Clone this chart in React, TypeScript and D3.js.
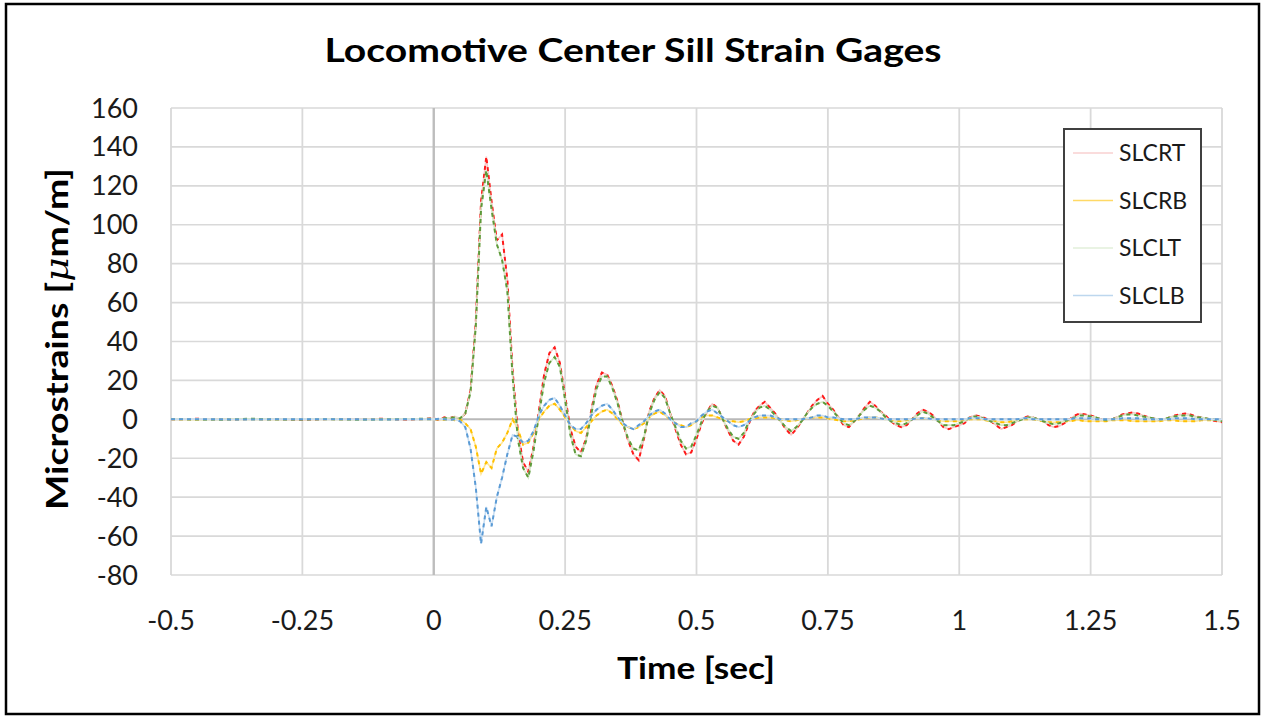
import React from "react";
import * as d3 from "d3";

// ---- data ----
const PRE_TIMES: number[] = [-0.5, -0.45, -0.4, -0.35, -0.3, -0.25, -0.2, -0.15, -0.1, -0.05];
const POST_TIMES: number[] = d3.range(0, 151).map((i) => Math.round(i) / 100);

const SLCRT_PRE = [0, 0.3, -0.2, 0.2, 0, -0.3, 0.2, 0, 0.3, -0.2];
const SLCRT = [
  0.5, -0.5, 1, 0.5, 1.5, 0, 3, 15, 50, 112,
  135, 112, 92, 95, 72, 25, -6, -22, -27, -14,
  4, 23, 34, 37, 29, 12, -5, -14, -17, -10,
  5, 18, 24, 23, 17, 9, -2, -11, -18, -21,
  -10, 4, 11, 15, 12, 3, -5, -13, -18, -17,
  -10, -2, 4, 8, 6, 0, -6, -11, -13, -9,
  -2, 4, 7, 9, 6, 3, -1, -5, -8, -5,
  -1, 3, 7, 10, 12, 8, 5, 1, -3, -4,
  -1, 2, 6, 9, 7, 4, 2, -1, -3, -4,
  -3, 0, 3, 5, 4, 2, -1, -4, -5, -4,
  -3, -2, 1, 2, 1.5, 0.5, -1, -3, -5, -4,
  -3, -1, 0.5, 1.5, 1, 0, -1, -3, -4, -3.5,
  -2, 0, 2, 3, 2.5, 2, 1, 0, -0.5, 0,
  1, 2.5, 3, 3.5, 3, 2, 1, 0.5, -0.5, 0,
  1, 2, 2.5, 3, 2.5, 1.5, 1, 0.5, -0.5, -1,
  -1.5,
];

const SLCRB_PRE = [0, -0.2, 0.1, 0, -0.2, 0.1, 0, -0.1, 0, 0.1];
const SLCRB = [
  0, 0, -0.3, 0, -0.5, 0, -2, -5, -14, -28,
  -22, -25, -15, -12, -7, 0, -5, -13, -12, -7,
  0, 4, 7, 8, 5, 1, -3, -6, -7, -4,
  -1, 2, 4, 5, 3, 0, -3, -4, -5, -4,
  -2, 1, 3, 4, 2, 0, -2, -3, -4, -3,
  -1, 1, 2, 2, 1, 0, -1, -1, -1.5, -1,
  0, 0.5, 1, 1, 1, 0.5, 0, -0.5, -1, -0.5,
  0, 0.5, 1, 1, 1, 0.5, 0, -0.5, -1, -1,
  -0.5, 0, 0.5, 1, 1, 0.5, 0, -0.5, -1, -1,
  -0.5, 0, 0.5, 0.5, 0.5, 0, -0.5, -1, -1, -1,
  -1, -0.5, 0, 0, 0, -0.5, -1, -1, -1.5, -1.5,
  -1, -0.5, 0, 0, 0, -0.5, -1, -1.5, -1.5, -1.5,
  -1, -1, -0.5, -0.5, -1, -1, -1, -1, -1, -0.5,
  -0.5, -0.5, -0.5, -1, -1, -1, -1, -1, -1, -0.5,
  -0.5, -0.5, -1, -1, -1, -1, -0.5, -0.5, -0.5, -0.5,
  -0.5,
];

const SLCLT_PRE = [0.2, 0, -0.2, 0.3, 0, -0.1, 0.2, -0.2, 0, 0.2];
const SLCLT = [
  0.3, 0, 0.5, 0.8, 1, 0.5, 3, 14, 48, 108,
  128, 108, 90, 82, 66, 22, -10, -25, -30, -16,
  2, 19, 29, 32, 27, 10, -8, -18, -19, -11,
  3, 16, 22, 22, 16, 8, -2, -10, -15, -16,
  -9, 3, 10, 14, 11, 3, -4, -11, -15, -14,
  -8, -1, 4, 7, 6, 0, -5, -9, -10, -7,
  -1, 3, 6, 7, 5, 2, -1, -4, -6, -4,
  -1, 3, 6, 8, 9, 7, 4, 1, -2, -3,
  -1, 2, 5, 7, 6, 4, 1, -1, -2, -3,
  -2, 0, 2, 4, 3, 1, -1, -3, -3, -3,
  -2, -1, 1, 1.5, 1, 0, -1, -2, -3, -3,
  -2, -1, 0, 1, 1, 0, -1, -2, -2.5, -2,
  -1, 0, 1, 2, 2, 1.5, 1, 0, -0.5, 0,
  1, 2, 2.5, 2.5, 2, 1.5, 1, 0.5, 0, 0,
  1, 1.5, 2, 2, 2, 1, 1, 0.5, 0, -0.5,
  -1,
];

const SLCLB_PRE = [0, 0.1, 0, -0.1, 0, 0.1, 0, 0, -0.1, 0];
const SLCLB = [
  0, 0.3, 0, -0.3, 0, -1, -4, -15, -35, -64,
  -45, -55, -40, -30, -18, -8, -9, -12, -11, -6,
  2, 7, 10, 11, 7, 2, -3, -5, -5, -2,
  2, 5, 7, 8, 5, 1, -2, -4, -5, -3,
  -1, 2, 4, 5, 3, 0, -2, -4, -4, -2,
  -1, 2, 4, 5, 3, 1, -1, -3, -4, -3,
  -1, 1, 2, 2, 2, 1, 0, 0, 0, 0,
  0, 0.5, 1, 2, 2, 1, 1, 0.5, 0, 0,
  0, 0.5, 1, 1, 1, 0.5, 0, 0, 0, 0,
  0, 0, 0.5, 0.5, 0.5, 0, 0, 0, 0, 0,
  0, 0, 0.5, 0.5, 0.5, 0, 0, 0, 0, 0,
  0, 0, 0.5, 0.5, 0, 0, 0, 0, 0, 0,
  0, 0, 0.5, 0.5, 0.5, 0.5, 0, 0, 0, 0,
  0, 0.5, 0.5, 0.5, 0.5, 0, 0, 0, 0, 0,
  0, 0.5, 0.5, 0.5, 0.5, 0, 0, 0, 0, 0,
  0,
];

const X_TICKS = [-0.5, -0.25, 0, 0.25, 0.5, 0.75, 1, 1.25, 1.5];
const Y_TICKS = [-80, -60, -40, -20, 0, 20, 40, 60, 80, 100, 120, 140, 160];

const SERIES = [
  { name: "SLCRT", pre: SLCRT_PRE, post: SLCRT, light: "#f7c5c5", dark: "#ff1a1a", legend: "#f9d0d0" },
  { name: "SLCRB", pre: SLCRB_PRE, post: SLCRB, light: "#ffe699", dark: "#ffc000", legend: "#ffd966" },
  { name: "SLCLT", pre: SLCLT_PRE, post: SLCLT, light: "#d5e8c8", dark: "#5e9a3a", legend: "#e2efda" },
  { name: "SLCLB", pre: SLCLB_PRE, post: SLCLB, light: "#c9def2", dark: "#5b9bd5", legend: "#bdd7ee" },
];

const FONT = "Lato, 'Open Sans', sans-serif";

export default function App() {
  const W = 1263;
  const H = 716;
  const x = d3.scaleLinear().domain([-0.5, 1.5]).range([171, 1222]);
  const y = d3.scaleLinear().domain([-80, 160]).range([575, 108]);
  const line = d3
    .line<[number, number]>()
    .x((d) => x(d[0]))
    .y((d) => y(d[1]));

  const times = [...PRE_TIMES, ...POST_TIMES];

  return (
    <svg
      width={W}
      height={H}
      style={{ position: "absolute", left: 0, top: 0, background: "#fff" }}
    >
      <rect x={0} y={0} width={W} height={H} fill="#fff" />
      <rect x={6} y={4} width={1253} height={710} fill="none" stroke="#000" strokeWidth={2.5} />

      {/* grid */}
      {Y_TICKS.map((t) => (
        <line
          key={"gy" + t}
          x1={x(-0.5)}
          x2={x(1.5)}
          y1={y(t)}
          y2={y(t)}
          stroke={t === 0 ? "#b8b8b8" : "#d9d9d9"}
          strokeWidth={t === 0 ? 2 : 1.6}
        />
      ))}
      {X_TICKS.map((t) => (
        <line
          key={"gx" + t}
          x1={x(t)}
          x2={x(t)}
          y1={y(-80)}
          y2={y(160)}
          stroke={t === 0 ? "#bdbdbd" : "#d9d9d9"}
          strokeWidth={t === 0 ? 2.4 : 1.8}
        />
      ))}

      {/* series */}
      {SERIES.map((s) => {
        const vals = [...s.pre, ...s.post];
        const pts: [number, number][] = times.map((t, i) => [t, vals[i]]);
        const d = line(pts) || "";
        return (
          <g key={s.name}>
            <path d={d} fill="none" stroke={s.light} strokeWidth={1.6} />
            <path
              d={d}
              fill="none"
              stroke={s.dark}
              strokeWidth={2}
              strokeDasharray="4 4"
            />
          </g>
        );
      })}

      {/* y tick labels */}
      {Y_TICKS.map((t) => (
        <text
          key={"ty" + t}
          x={138}
          y={y(t) + 9.5}
          textAnchor="end"
          fontFamily={FONT}
          fontSize={27}
          fill="#1a1a1a"
        >
          {t}
        </text>
      ))}
      {/* x tick labels */}
      {X_TICKS.map((t) => (
        <text
          key={"tx" + t}
          x={x(t)}
          y={630}
          textAnchor="middle"
          fontFamily={FONT}
          fontSize={27}
          fill="#1a1a1a"
        >
          {String(t)}
        </text>
      ))}

      {/* title */}
      <text
        x={633}
        y={62}
        textAnchor="middle"
        fontFamily={FONT}
        fontWeight="bold"
        fontSize={33}
        textLength={617}
        lengthAdjust="spacingAndGlyphs"
        fill="#000"
      >
        Locomotive Center Sill Strain Gages
      </text>

      {/* axis titles */}
      <text
        x={696}
        y={679}
        textAnchor="middle"
        fontFamily={FONT}
        fontWeight="bold"
        fontSize={31}
        textLength={158}
        lengthAdjust="spacingAndGlyphs"
        fill="#000"
      >
        Time [sec]
      </text>
      <text
        transform="translate(68,339) rotate(-90)"
        textAnchor="middle"
        fontFamily={FONT}
        fontWeight="bold"
        fontSize={31}
        textLength={342}
        lengthAdjust="spacingAndGlyphs"
        fill="#000"
      >
        Microstrains [
        <tspan fontFamily="'DejaVu Serif', serif" fontStyle="italic" fontWeight="normal">
          μ
        </tspan>
        m/m]
      </text>

      {/* legend */}
      <rect x={1064} y={129} width={137} height={193} fill="#fff" stroke="#404040" strokeWidth={2} />
      {SERIES.map((s, i) => {
        const ly = 153 + i * 47.5;
        return (
          <g key={"lg" + s.name}>
            <line x1={1073} x2={1113} y1={ly} y2={ly} stroke={s.legend} strokeWidth={1.6} />
            <text x={1119} y={ly + 8} fontFamily={FONT} fontSize={23} fill="#1a1a1a">
              {s.name}
            </text>
          </g>
        );
      })}
    </svg>
  );
}
